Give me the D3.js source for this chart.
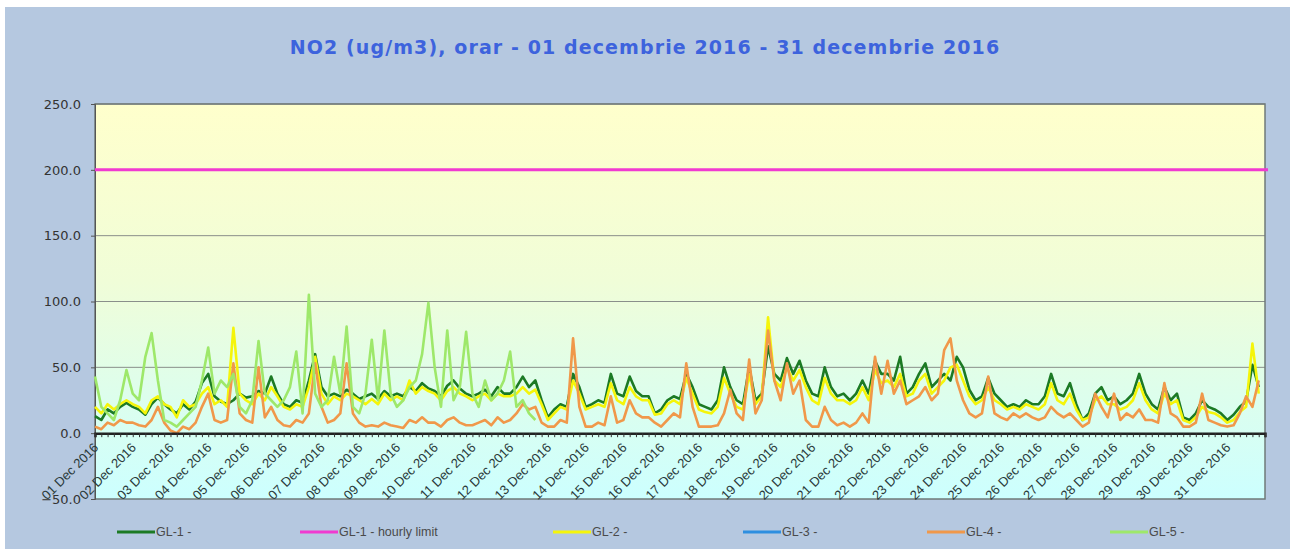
<!DOCTYPE html>
<html>
<head>
<meta charset="utf-8">
<script src="https://cdn.jsdelivr.net/npm/d3@7"></script>
<style>
  body { margin: 0; background: #fff; }
  svg { display: block; font-family: "Liberation Sans", Arial, sans-serif; }
</style>
</head>
<body>
<svg id="chart" width="1294" height="553"></svg>
<script>
const dayLabels = [
  "01 Dec 2016", "02 Dec 2016", "03 Dec 2016", "04 Dec 2016", "05 Dec 2016", "06 Dec 2016",
  "07 Dec 2016", "08 Dec 2016", "09 Dec 2016", "10 Dec 2016", "11 Dec 2016", "12 Dec 2016",
  "13 Dec 2016", "14 Dec 2016", "15 Dec 2016", "16 Dec 2016", "17 Dec 2016", "18 Dec 2016",
  "19 Dec 2016", "20 Dec 2016", "21 Dec 2016", "22 Dec 2016", "23 Dec 2016", "24 Dec 2016",
  "25 Dec 2016", "26 Dec 2016", "27 Dec 2016", "28 Dec 2016", "29 Dec 2016", "30 Dec 2016",
  "31 Dec 2016"
];
const yTicks = [-50, 0, 50, 100, 150, 200, 250];
const hourlyLimit = 200;
const stepHours = 4;

// one row per day: 00h, 04h, 08h, 12h, 16h, 20h
const gl1 = [
  [13, 10, 18, 15, 20, 23], [20, 18, 14, 22, 27, 22], [18, 15, 22, 18, 24, 38], [45, 28, 24, 22, 25, 30],
  [27, 28, 32, 30, 43, 30], [22, 20, 25, 23, 40, 60], [35, 28, 30, 28, 33, 30], [26, 28, 30, 26, 32, 28],
  [30, 28, 35, 32, 38, 34], [32, 28, 36, 40, 34, 30], [28, 30, 33, 28, 35, 30], [30, 35, 43, 35, 40, 25],
  [12, 18, 22, 20, 45, 35], [20, 22, 25, 23, 45, 30], [28, 43, 32, 28, 28, 15], [18, 25, 28, 26, 45, 35],
  [22, 20, 18, 25, 50, 35], [25, 22, 50, 25, 30, 66], [45, 40, 57, 45, 55, 40], [30, 28, 50, 35, 28, 30],
  [25, 30, 40, 30, 55, 45], [45, 40, 58, 30, 35, 45], [53, 35, 40, 45, 40, 58], [50, 33, 25, 28, 42, 30],
  [25, 20, 22, 20, 25, 22], [22, 28, 45, 30, 28, 38], [22, 10, 15, 30, 35, 25], [28, 22, 25, 30, 45, 30],
  [22, 18, 35, 25, 30, 12], [10, 15, 25, 20, 18, 15], [10, 14, 20, 24, 52, 35]
].flat();

const gl2 = [
  [20, 15, 22, 18, 22, 25], [22, 20, 15, 25, 28, 22], [20, 12, 25, 20, 22, 30], [35, 22, 25, 20, 80, 30],
  [25, 22, 30, 25, 35, 28], [20, 18, 22, 20, 35, 58], [30, 22, 28, 25, 30, 28], [25, 22, 26, 22, 30, 25],
  [28, 25, 40, 30, 35, 32], [30, 25, 32, 35, 30, 28], [25, 28, 30, 25, 30, 28], [28, 30, 35, 30, 33, 22],
  [10, 15, 20, 18, 40, 30], [18, 20, 22, 20, 38, 25], [22, 35, 28, 25, 25, 14], [15, 22, 25, 22, 42, 30],
  [18, 16, 15, 20, 42, 30], [20, 18, 45, 22, 28, 88], [40, 35, 50, 40, 48, 35], [25, 22, 42, 30, 25, 25],
  [22, 25, 35, 25, 48, 38], [40, 35, 45, 28, 30, 40], [45, 30, 35, 40, 50, 52], [40, 28, 22, 25, 35, 25],
  [22, 18, 20, 18, 22, 20], [18, 22, 38, 25, 22, 30], [18, 10, 12, 25, 28, 22], [22, 18, 20, 25, 38, 25],
  [18, 15, 30, 22, 25, 10], [8, 12, 20, 16, 15, 12], [8, 10, 16, 20, 68, 30]
].flat();

// GL-3 reported no values this month
const gl3 = [];

const gl4 = [
  [5, 3, 8, 6, 10, 8], [8, 6, 5, 10, 20, 8], [2, 0, 5, 3, 8, 20], [30, 10, 8, 10, 53, 15],
  [10, 8, 50, 12, 20, 10], [6, 5, 10, 8, 15, 53], [20, 8, 10, 15, 53, 15], [8, 5, 6, 5, 8, 6],
  [5, 4, 10, 8, 12, 8], [8, 5, 10, 12, 8, 6], [6, 8, 10, 6, 12, 8], [10, 15, 22, 18, 20, 8],
  [5, 5, 10, 8, 72, 20], [5, 5, 8, 6, 28, 8], [10, 25, 15, 12, 12, 8], [5, 10, 15, 12, 53, 20],
  [5, 5, 5, 6, 15, 33], [15, 10, 56, 15, 25, 78], [40, 25, 53, 30, 40, 10], [5, 5, 20, 10, 6, 8],
  [5, 8, 15, 8, 58, 30], [55, 30, 40, 22, 25, 28], [35, 25, 30, 63, 72, 40], [25, 15, 12, 15, 43, 15],
  [12, 10, 15, 12, 15, 12], [10, 12, 20, 15, 12, 15], [10, 5, 8, 30, 20, 12], [30, 10, 15, 12, 18, 10],
  [10, 8, 38, 15, 12, 5], [5, 8, 30, 10, 8, 6], [5, 6, 15, 28, 20, 40]
].flat();

// GL-5 stops reporting on 12 Dec
const gl5 = [
  [43, 20, 15, 10, 25, 48], [30, 25, 58, 76, 40, 10], [8, 5, 10, 15, 20, 40], [65, 30, 40, 35, 45, 20],
  [15, 25, 70, 30, 25, 20], [25, 35, 62, 15, 105, 30], [20, 25, 58, 30, 81, 20], [15, 30, 71, 25, 78, 30],
  [20, 25, 35, 40, 60, 99], [50, 20, 78, 25, 35, 77], [30, 20, 40, 25, 30, 40], [62, 20, 25, 15, 10]
].flat();

const series = [
  { name: "GL-1 -", values: gl1, color: "#1c7a24" },
  { name: "GL-2 -", values: gl2, color: "#f5f50a" },
  { name: "GL-3 -", values: gl3, color: "#2e8fe0" },
  { name: "GL-4 -", values: gl4, color: "#f0984a" },
  { name: "GL-5 -", values: gl5, color: "#9ee86a" }
];

// ── Layout ──
const plot = { left: 95, right: 1265, top: 104, bottom: 499 };
const hoursTotal = dayLabels.length * 24;

const svg = d3.select("#chart");

svg.append("rect")
  .attr("x", 5).attr("y", 7)
  .attr("width", 1285).attr("height", 542)
  .attr("fill", "#b5c8e0");

// ── Scales ──
const x = d3.scaleLinear().domain([0, hoursTotal]).range([plot.left, plot.right]);
const y = d3.scaleLinear().domain([-50, 250]).range([plot.bottom, plot.top]);

// ── Plot background gradient ──
const grad = svg.append("defs").append("linearGradient")
  .attr("id", "bg").attr("x1", 0).attr("y1", 0).attr("x2", 0).attr("y2", 1);
grad.append("stop").attr("offset", "0%").attr("stop-color", "#ffffcc");
grad.append("stop").attr("offset", "45%").attr("stop-color", "#f0fdd8");
grad.append("stop").attr("offset", "100%").attr("stop-color", "#ccffff");

svg.append("rect")
  .attr("x", plot.left).attr("y", plot.top)
  .attr("width", plot.right - plot.left).attr("height", plot.bottom - plot.top)
  .attr("fill", "url(#bg)");

// ── Grid ──
svg.append("g")
  .selectAll("line")
  .data(yTicks.filter(d => d > 0))
  .join("line")
  .attr("x1", plot.left).attr("x2", plot.right)
  .attr("y1", d => y(d)).attr("y2", d => y(d))
  .attr("stroke", "#8a8f8a").attr("stroke-width", 1);

// plot frame
svg.append("rect")
  .attr("x", plot.left).attr("y", plot.top)
  .attr("width", plot.right - plot.left).attr("height", plot.bottom - plot.top)
  .attr("fill", "none").attr("stroke", "#6f7a78").attr("stroke-width", 1.5);

// ── Y axis ──
const yAxis = svg.append("g")
  .attr("transform", `translate(${plot.left},0)`)
  .call(d3.axisLeft(y).tickValues(yTicks).tickFormat(d3.format(".1f")).tickSize(4).tickPadding(10));
yAxis.select(".domain").attr("stroke", "#555");
yAxis.selectAll(".tick line").attr("stroke", "#555");
yAxis.selectAll("text")
  .attr("font-family", "'DejaVu Sans', Verdana, sans-serif")
  .attr("font-size", 13)
  .attr("fill", "#333");

// ── Lines ──
const line = d3.line()
  .defined(d => d != null)
  .x((d, i) => x(i * stepHours))
  .y(d => y(d));

series.forEach(s => {
  if (!s.values.length) return;
  svg.append("path")
    .datum(s.values)
    .attr("fill", "none")
    .attr("stroke", s.color)
    .attr("stroke-width", 2.6)
    .attr("stroke-linejoin", "round")
    .attr("d", line);
});

// hourly limit
svg.append("line")
  .attr("x1", plot.left).attr("x2", plot.right + 3)
  .attr("y1", y(hourlyLimit)).attr("y2", y(hourlyLimit))
  .attr("stroke", "#f03ad0").attr("stroke-width", 3);

// ── X axis on the zero line ──
const xTicksAxis = svg.append("g")
  .attr("transform", `translate(0,${y(0)})`)
  .call(d3.axisBottom(x).tickValues(d3.range(0, hoursTotal + 1, 4)).tickSize(4).tickFormat(""));
xTicksAxis.select(".domain").attr("stroke", "#222").attr("stroke-width", 2.5);
xTicksAxis.selectAll(".tick line").attr("stroke", "#333").attr("stroke-width", 1);

// day labels, rotated 45° and hanging from the zero line
svg.append("g")
  .selectAll("text")
  .data(dayLabels)
  .join("text")
  .attr("transform", (d, i) => `translate(${x(i * 24) + 1},${y(0) + 12}) rotate(-45)`)
  .attr("text-anchor", "end")
  .attr("dy", "0.35em")
  .attr("font-size", 13)
  .attr("fill", "#2a3a3a")
  .text(d => d);

// ── Title ──
svg.append("text")
  .attr("x", 645).attr("y", 54)
  .attr("text-anchor", "middle")
  .attr("font-family", "'DejaVu Sans', Verdana, sans-serif")
  .attr("font-weight", "bold")
  .attr("font-size", 19)
  .attr("letter-spacing", 1.1)
  .attr("fill", "#3d63dd")
  .text("NO2 (ug/m3), orar - 01 decembrie 2016 - 31 decembrie 2016");

// ── Legend ──
const legendItems = [
  { name: "GL-1 -", color: series[0].color },
  { name: "GL-1 - hourly limit", color: "#f03ad0" },
  { name: "GL-2 -", color: series[1].color },
  { name: "GL-3 -", color: series[2].color },
  { name: "GL-4 -", color: series[3].color },
  { name: "GL-5 -", color: series[4].color }
];
const legendX = [117, 300, 553, 743, 927, 1110];
const legendY = 532;

const lg = svg.append("g")
  .selectAll("g")
  .data(legendItems)
  .join("g")
  .attr("transform", (d, i) => `translate(${legendX[i]},${legendY})`);
lg.append("line")
  .attr("x1", 0).attr("x2", 38)
  .attr("stroke", d => d.color).attr("stroke-width", 3);
lg.append("text")
  .attr("x", 39).attr("dy", "0.35em")
  .attr("font-size", 12.5)
  .attr("fill", "#4a4a4a")
  .text(d => d.name);
</script>
</body>
</html>
